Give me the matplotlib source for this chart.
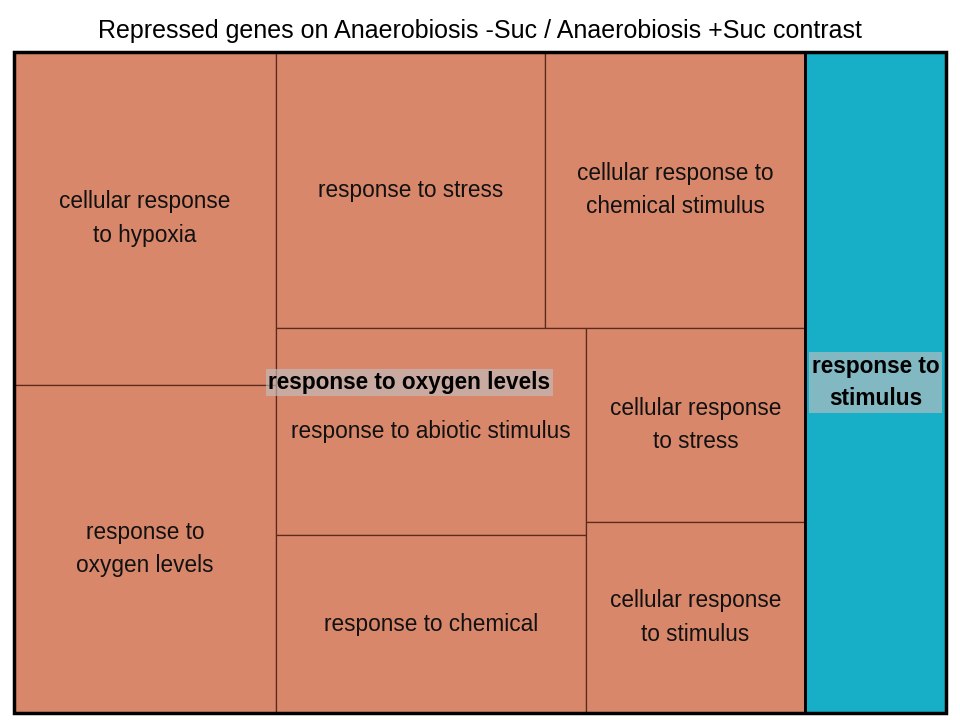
import matplotlib.pyplot as plt
from matplotlib.patches import Rectangle

plt.rcParams['font.family'] = ['Liberation Sans', 'DejaVu Sans']

title = "Repressed genes on Anaerobiosis -Suc / Anaerobiosis +Suc contrast"

# terms (leaf labels) and their sizes
terms = ["cellular response\nto hypoxia", "response to\noxygen levels",
         "response to stress", "cellular response to\nchemical stimulus",
         "response to abiotic stimulus", "response to chemical",
         "cellular response\nto stress", "cellular response\nto stimulus",
         "response to\nstimulus_leaf"]
sizes = [87246, 85936, 74244, 71760, 64170, 55180, 42486, 41829, 93201]
groups = [0, 0, 0, 0, 0, 0, 0, 0, 1]
group_names = ["response to oxygen levels", "response to\nstimulus"]
group_colors = ["#D8876A", "#17AEC8"]

# split tree: ('h' = side by side, 'v' = stacked), leaves are term indices
tree = ('h', [('h', [('v', [0, 1]),
                     ('v', [('h', [2, 3]),
                            ('h', [('v', [4, 5]), ('v', [6, 7])])])]),
              8])


def total(node):
    if isinstance(node, int):
        return sizes[node]
    return sum(total(c) for c in node[1])


def layout(node, x, y, w, h, out):
    if isinstance(node, int):
        out[node] = (x, y, w, h)
        return
    kind, kids = node
    s = total(node)
    pos = 0
    for k in kids:
        f = total(k) / s
        if kind == 'h':
            layout(k, x + pos * w, y, f * w, h, out)
        else:
            layout(k, x, y + pos * h, w, f * h, out)
        pos += f


fig = plt.figure(figsize=(9.6, 7.2), dpi=100)
ax = fig.add_axes([14 / 960, 7 / 720, 932 / 960, 661 / 720])
W, H = 9.32, 6.61
ax.set_xlim(0, W)
ax.set_ylim(H, 0)
ax.axis('off')

rects = {}
layout(tree, 0, 0, W, H, rects)

for i, t in enumerate(terms):
    x, y, w, h = rects[i]
    ax.add_patch(Rectangle((x, y), w, h, facecolor=group_colors[groups[i]],
                           edgecolor='#5a2a1c', lw=0.9))
    if groups[i] == 0:
        ax.text(x + w / 2, y + h / 2, t, ha='center', va='center',
                fontsize=16.3, linespacing=1.56, color='#111111')

# group borders and labels
for g, name in enumerate(group_names):
    idx = [i for i in range(len(terms)) if groups[i] == g]
    x0 = min(rects[i][0] for i in idx)
    y0 = min(rects[i][1] for i in idx)
    x1 = max(rects[i][0] + rects[i][2] for i in idx)
    y1 = max(rects[i][1] + rects[i][3] for i in idx)
    ax.add_patch(Rectangle((x0, y0), x1 - x0, y1 - y0, fill=False,
                           edgecolor='black', lw=2))
    ax.text((x0 + x1) / 2, (y0 + y1) / 2, name, ha='center', va='center',
            fontsize=16.3, fontweight='bold', linespacing=1.55,
            bbox=dict(boxstyle='square,pad=0.1', facecolor='#BFBFBF',
                      alpha=0.64, edgecolor='none'))

ax.add_patch(Rectangle((0, 0), W, H, fill=False, edgecolor='black', lw=2.5,
                       clip_on=False))

fig.text(0.5, 1 - 31 / 720, title, ha='center', va='center', fontsize=18)

plt.savefig("out.png", dpi=100)
